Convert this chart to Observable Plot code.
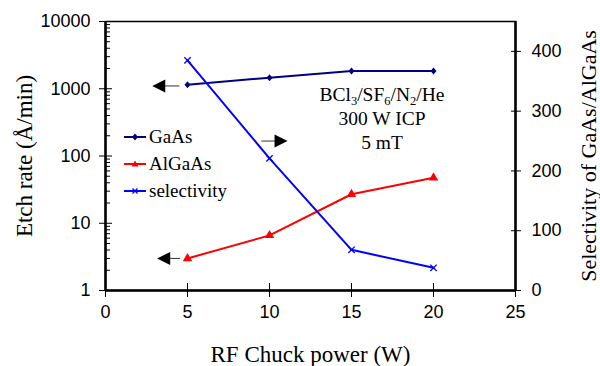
<!DOCTYPE html>
<html>
<head>
<meta charset="utf-8">
<script src="https://cdn.jsdelivr.net/npm/d3@7"></script>
<script src="https://cdn.jsdelivr.net/npm/@observablehq/plot@0.6"></script>
<style>
  body { margin: 0; background: white; }
  #wrap { position: relative; width: 600px; height: 366px; overflow: hidden; }
  #wrap > svg { position: absolute; left: 0; top: 0; }
  .serif { font-family: "Liberation Serif", "Times New Roman", serif; color: #000; }
  #legend { position: absolute; left: 124px; top: 123px; font-size: 19px; line-height: 27px; }
  #legend div { display: flex; align-items: center; height: 27px; }
  #legend svg { position: static; margin-right: 3px; }
  #note { position: absolute; left: 301px; top: 83px; width: 162px; text-align: center; font-size: 19.5px; line-height: 24px; }
  #note sub { font-size: 12.5px; vertical-align: -4px; line-height: 0; }
</style>
</head>
<body>
<div id="wrap"></div>
<script>
// ---- data ----
const power = [5, 10, 15, 20];
const gaasRate = [1150, 1460, 1830, 1830];
const algaasRate = [3.0, 6.6, 27, 47.5];
const selectivity = [385, 221, 68, 38];

const xTicks = [0, 5, 10, 15, 20, 25];
const leftTicks = [1, 10, 100, 1000, 10000];
const rightTicks = [0, 100, 200, 300, 400];
const seriesNames = ["GaAs", "AlGaAs", "selectivity"];
const seriesColors = ["#000080", "#ff0000", "#0000ff"];

// annotation arrows (data units)
const leftArrows = [
  {x1: 2.85, x2: 4.5, y: 1100},
  {x1: 3.15, x2: 4.55, y: 3.0}
];
const rightArrows = [
  {x1: 11.1, x2: 9.5, y: 250}
];

const gaas = power.map((p, i) => ({x: p, y: gaasRate[i]}));
const algaas = power.map((p, i) => ({x: p, y: algaasRate[i]}));
const sel = power.map((p, i) => ({x: p, y: selectivity[i]}));
const minorTicks = [];
for (let k = 0; k < 4; k++) for (let m = 2; m <= 9; m++) minorTicks.push(m * 10 ** k);

const W = 600, H = 366;
const margins = {marginLeft: 105, marginRight: 85, marginTop: 21, marginBottom: 76};
const sans = "'Liberation Sans', Arial, sans-serif";
const serif = "'Liberation Serif', 'Times New Roman', serif";

const headLeft = {draw(c) { c.moveTo(0, 0); c.lineTo(13, -6.5); c.lineTo(13, 6.5); c.closePath(); }};
const headRight = {draw(c) { c.moveTo(0, 0); c.lineTo(-13, -6.5); c.lineTo(-13, 6.5); c.closePath(); }};
const diamond = {draw(c) { c.moveTo(0, -3.5); c.lineTo(3, 0); c.lineTo(0, 3.5); c.lineTo(-3, 0); c.closePath(); }};

const left = Plot.plot({
  width: W, height: H, ...margins,
  style: {background: "transparent", overflow: "visible"},
  x: {domain: [0, 25]},
  y: {type: "log", domain: [1, 10000]},
  marks: [
    Plot.frame({stroke: "black", strokeWidth: 1.5}),
    Plot.axisX(xTicks, {anchor: "bottom", tickSize: 7, tickPadding: 8, fontSize: 18, fontFamily: sans, fill: "black", stroke: "black", label: null}),
    Plot.axisX(xTicks, {anchor: "bottom", tickSize: -7, text: null, stroke: "black", label: null}),
    Plot.axisY(leftTicks, {anchor: "left", tickSize: 6, tickPadding: 9, tickFormat: d => String(d), fontSize: 18, fontFamily: sans, fill: "black", stroke: "black", label: null}),
    Plot.axisY(leftTicks, {anchor: "left", tickSize: -7, text: null, stroke: "black", label: null}),
    Plot.axisY(minorTicks, {anchor: "left", tickSize: -5, text: null, stroke: "black", label: null}),
    Plot.ruleX([0], {stroke: "black", strokeWidth: 2.5}),
    Plot.ruleY([1], {stroke: "black", strokeWidth: 2.5}),
    Plot.line(gaas, {x: "x", y: "y", stroke: seriesColors[0], strokeWidth: 2}),
    Plot.dot(gaas, {x: "x", y: "y", symbol: diamond, fill: seriesColors[0], r: 3}),
    Plot.line(algaas, {x: "x", y: "y", stroke: seriesColors[1], strokeWidth: 2}),
    Plot.dot(algaas, {x: "x", y: "y", symbol: "triangle", fill: seriesColors[1], r: 3.5}),
    Plot.link(leftArrows, {x1: d => d.x1 + 0.7, x2: "x2", y1: "y", y2: "y", stroke: "#333", strokeWidth: 1}),
    Plot.dot(leftArrows, {x: "x1", y: "y", symbol: headLeft, fill: "black", r: 3}),
    Plot.text(["RF Chuck power (W)"], {frameAnchor: "bottom", dy: 64, lineAnchor: "middle", textAnchor: "middle", fontFamily: serif, fontSize: 23, fill: "black"}),
    Plot.text(["Etch rate (Å/min)"], {frameAnchor: "left", dx: -81, rotate: -90, lineAnchor: "middle", textAnchor: "middle", fontFamily: serif, fontSize: 23, fill: "black"})
  ]
});

const right = Plot.plot({
  width: W, height: H, ...margins,
  style: {background: "transparent", overflow: "visible"},
  x: {domain: [0, 25], axis: null},
  y: {domain: [0, 450]},
  marks: [
    Plot.axisY(rightTicks, {anchor: "right", tickSize: 5, tickPadding: 11, fontSize: 18, fontFamily: sans, fill: "black", stroke: "black", label: null}),
    Plot.axisY(rightTicks, {anchor: "right", tickSize: -5, text: null, stroke: "black", label: null}),
    Plot.ruleX([25], {stroke: "black", strokeWidth: 2.5}),
    Plot.line(sel, {x: "x", y: "y", stroke: seriesColors[2], strokeWidth: 2}),
    Plot.dot(sel, {x: "x", y: "y", symbol: "times", stroke: seriesColors[2], strokeWidth: 1.3, r: 3}),
    Plot.link(rightArrows, {x1: d => d.x1 - 0.7, x2: "x2", y1: "y", y2: "y", stroke: "#333", strokeWidth: 1}),
    Plot.dot(rightArrows, {x: "x1", y: "y", symbol: headRight, fill: "black", r: 3}),
    Plot.text(["Selectivity of GaAs/AlGaAs"], {frameAnchor: "right", dx: 73, rotate: -90, lineAnchor: "middle", textAnchor: "middle", fontFamily: serif, fontSize: 22, fill: "black"})
  ]
});

const wrap = document.getElementById("wrap");
wrap.appendChild(left);
wrap.appendChild(right);

// legend
const legend = document.createElement("div");
legend.id = "legend";
legend.className = "serif";
const markerPaths = [
  c => `<path d="M11,1.5L14,5L11,8.5L8,5Z" fill="${c}"/>`,
  c => `<path d="M11,1.5L14.5,7.5L7.5,7.5Z" fill="${c}"/>`,
  c => `<path d="M8.5,2.5L13.5,7.5M13.5,2.5L8.5,7.5" stroke="${c}" stroke-width="1.3"/>`
];
seriesNames.forEach((name, i) => {
  const row = document.createElement("div");
  row.innerHTML = `<svg width="22" height="10"><line x1="0" x2="22" y1="5" y2="5" stroke="${seriesColors[i]}" stroke-width="2"/>${markerPaths[i](seriesColors[i])}</svg><span>${name}</span>`;
  legend.appendChild(row);
});
wrap.appendChild(legend);

// annotation
const note = document.createElement("div");
note.id = "note";
note.className = "serif";
note.innerHTML = "BCl<sub>3</sub>/SF<sub>6</sub>/N<sub>2</sub>/He<br>300 W ICP<br>5 mT";
wrap.appendChild(note);
</script>
</body>
</html>
